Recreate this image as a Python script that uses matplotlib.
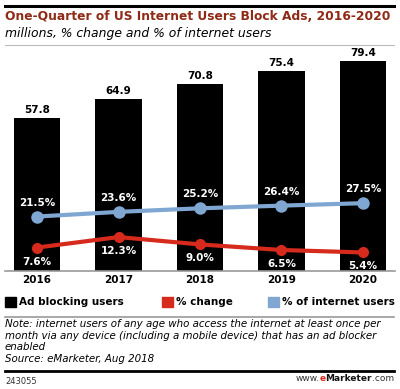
import matplotlib
matplotlib.use("Agg")
import matplotlib.pyplot as plt
from matplotlib.patches import Rectangle
from matplotlib.lines import Line2D

years = ["2016", "2017", "2018", "2019", "2020"]
ad_blocking_users = [57.8, 64.9, 70.8, 75.4, 79.4]
pct_change = [7.6, 12.3, 9.0, 6.5, 5.4]
pct_internet_users = [21.5, 23.6, 25.2, 26.4, 27.5]

TITLE = "One-Quarter of US Internet Users Block Ads, 2016-2020"
SUBTITLE = "millions, % change and % of internet users"
NOTE = ("Note: internet users of any age who access the internet at least once per\n"
        "month via any device (including a mobile device) that has an ad blocker\n"
        "enabled\n"
        "Source: eMarketer, Aug 2018")

BLUE = "#7fa7d1"
RED = "#d52a1c"
TITLE_RED = "#8e2a15"

W, H = 400, 389
fig = plt.figure(figsize=(W / 100, H / 100), dpi=100)


def fx(px):
    return px / W


def fy(py):
    return 1 - py / H


# plot area: x 5..395 px, y 50..271 px (from top)
ax = fig.add_axes([fx(5), fy(271), fx(390), (271 - 50) / H])
x = list(range(len(years)))
ax.bar(x, ad_blocking_users, width=0.565, color="black", zorder=1)
ax.set_xlim(-0.393, 4.393)
ax.set_ylim(0, 221 / 2.646)
for s in ["top", "right", "left"]:
    ax.spines[s].set_visible(False)
ax.spines["bottom"].set_color("#999999")
ax.spines["bottom"].set_linewidth(1.2)
ax.set_yticks([])
ax.set_xticks(x)
ax.set_xticklabels(years, fontsize=7.5, fontweight="bold")
ax.tick_params(axis="x", length=0, pad=3)

for xi, v in zip(x, ad_blocking_users):
    ax.annotate(f"{v:.1f}", (xi, v), xytext=(0, 3), textcoords="offset pixels",
                ha="center", va="bottom", fontsize=7.5, fontweight="bold",
                color="black", annotation_clip=False)

ax2 = ax.twinx()
ax2.set_ylim(-6.5 / 2.23, (221 - 6.5) / 2.23)
ax2.set_axis_off()
ax2.plot(x, pct_internet_users, color=BLUE, lw=3, marker="o", ms=9,
         markeredgewidth=0, zorder=3)
ax2.plot(x, pct_change, color=RED, lw=3, marker="o", ms=8,
         markeredgewidth=0, zorder=3)

for xi, v in zip(x, pct_internet_users):
    ax2.annotate(f"{v:.1f}%", (xi, v), xytext=(0, 9), textcoords="offset pixels",
                 ha="center", va="bottom", fontsize=7.5, fontweight="bold",
                 color="white")
for xi, v in zip(x, pct_change):
    ax2.annotate(f"{v:.1f}%", (xi, v), xytext=(0, -9), textcoords="offset pixels",
                 ha="center", va="top", fontsize=7.5, fontweight="bold",
                 color="white")

# header
fig.add_artist(Line2D([fx(5), fx(394)], [fy(5.5), fy(5.5)], color="black", lw=2.2))
fig.text(fx(5), fy(17), TITLE, fontsize=8.85, fontweight="bold", color=TITLE_RED,
         ha="left", va="center")
fig.text(fx(5), fy(33), SUBTITLE, fontsize=8.9, style="italic", color="black",
         ha="left", va="center")
fig.add_artist(Line2D([fx(5), fx(394)], [fy(45), fy(45)], color="#bbbbbb", lw=0.8))

# legend
legend_items = [("Ad blocking users", "black", 5), ("% change", RED, 162), ("% of internet users", BLUE, 268)]
for label, color, px in legend_items:
    fig.add_artist(Rectangle((fx(px), fy(307)), fx(11), 10 / H, color=color,
                             transform=fig.transFigure))
    fig.text(fx(px + 14), fy(302), label, fontsize=7.5, fontweight="bold",
             ha="left", va="center")
fig.add_artist(Line2D([fx(5), fx(394)], [fy(317), fy(317)], color="#999999", lw=1.2))

# note
fig.text(fx(5), fy(319), NOTE, fontsize=7.4, style="italic", ha="left", va="top",
         linespacing=1.2)
fig.add_artist(Line2D([fx(5), fx(394)], [fy(371), fy(371)], color="black", lw=2))
fig.text(fx(5), fy(381), "243055", fontsize=6, color="#333333", ha="left", va="center")

# footer brand, built right to left
t = fig.text(fx(394), fy(381), ".com", fontsize=6.5, color="#333333",
             ha="right", va="baseline")
for piece, color, weight in [("Marketer", "#111111", "bold"), ("e", RED, "bold"),
                             ("www.", "#333333", "normal")]:
    t = fig.text(0, 0, piece, fontsize=6.5, color=color, fontweight=weight,
                 ha="right", va="baseline")
    t_prev = fig.texts[-2]
    fig.canvas.draw()
    bb = t_prev.get_window_extent().transformed(fig.transFigure.inverted())
    t.set_position((bb.x0, fy(381)))
    t.set_y(t_prev.get_position()[1])

fig.savefig("out.png", dpi=100)
